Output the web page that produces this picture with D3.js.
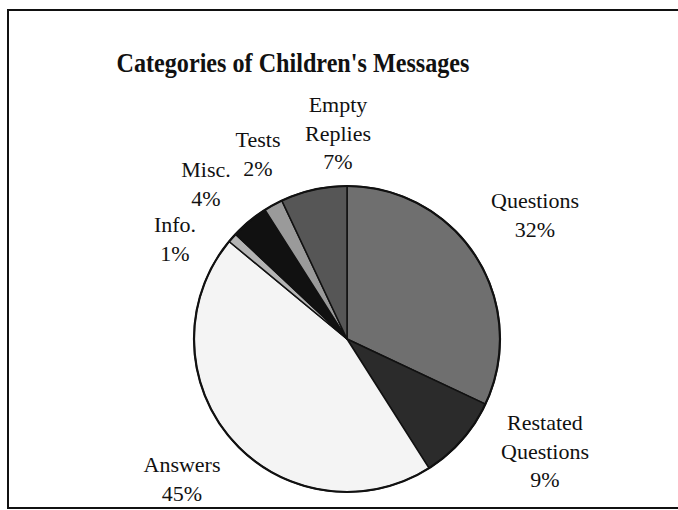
<!DOCTYPE html>
<html>
<head>
<meta charset="utf-8">
<script src="https://cdn.jsdelivr.net/npm/d3@7"></script>
<style>
  html, body { margin: 0; padding: 0; background: #fff; }
  svg { display: block; }
  text { font-family: "Liberation Serif", "Times New Roman", serif; fill: #111; }
</style>
</head>
<body>
<svg id="chart" width="678" height="510"></svg>
<script>
// Message categories, clockwise from 12 o'clock
const categories = ["Questions", "Restated Questions", "Answers", "Info.", "Misc.", "Tests", "Empty Replies"];
const shares = [32, 9, 45, 1, 4, 2, 7];
const fills = ["#6f6f6f", "#2b2b2b", "#f4f4f4", "#b4b4b4", "#111111", "#9a9a9a", "#565656"];
// label lines and anchor points for each slice
const labelLines = [["Questions"], ["Restated", "Questions"], ["Answers"], ["Info."], ["Misc."], ["Tests"], ["Empty", "Replies"]];
const labelX = [535, 545, 182, 175, 206, 258, 338];
const labelY = [208, 430, 472, 232, 177, 147, 112];
const title = "Categories of Children's Messages";

const svg = d3.select("#chart");
const W = 678, H = 510;

// outer frame
svg.append("rect")
  .attr("x", 8).attr("y", 10)
  .attr("width", W + 10).attr("height", 498)
  .attr("fill", "none").attr("stroke", "#111").attr("stroke-width", 2);

svg.append("text")
  .attr("x", 293).attr("y", 72)
  .attr("text-anchor", "middle")
  .attr("font-size", 27).attr("font-weight", "bold")
  .attr("textLength", 353).attr("lengthAdjust", "spacingAndGlyphs")
  .text(title);

const cx = 347, cy = 339, r = 153;
const pie = d3.pie().sort(null).value(d => d.v).startAngle(0).endAngle(2 * Math.PI);
const data = categories.map((c, i) => ({ c, v: shares[i], fill: fills[i] }));
const arcs = pie(data);
const arc = d3.arc().innerRadius(0).outerRadius(r);

const g = svg.append("g").attr("transform", `translate(${cx},${cy})`);
g.selectAll("path.slice")
  .data(arcs)
  .join("path")
  .attr("class", "slice")
  .attr("d", arc)
  .attr("fill", d => d.data.fill)
  .attr("stroke", "#111")
  .attr("stroke-width", 1.5)
  .attr("stroke-linejoin", "round");

g.append("circle").attr("r", r).attr("fill", "none").attr("stroke", "#111").attr("stroke-width", 2.2);

// slice labels: name lines followed by percentage
const lineH = 28.5;
arcs.forEach((a, i) => {
  const lines = labelLines[i].concat([shares[i] + "%"]);
  const t = svg.append("text")
    .attr("text-anchor", "middle")
    .attr("font-size", 22);
  lines.forEach((ln, k) => {
    t.append("tspan")
      .attr("x", labelX[i])
      .attr("y", labelY[i] + k * lineH)
      .text(ln);
  });
});
</script>
</body>
</html>
